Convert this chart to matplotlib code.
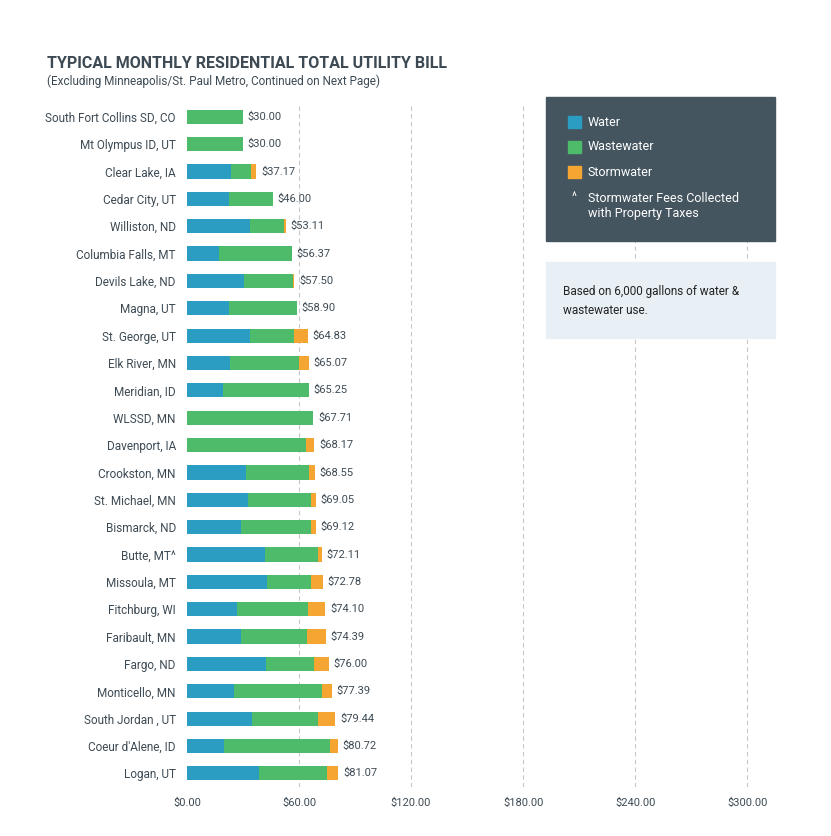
import matplotlib.pyplot as plt
import matplotlib.patches as patches
import numpy as np

plt.rcParams['font.family'] = ['Roboto', 'DejaVu Sans']
plt.rcParams['font.stretch'] = 'condensed'

cities = ["South Fort Collins SD, CO", "Mt Olympus ID, UT", "Clear Lake, IA", "Cedar City, UT",
          "Williston, ND", "Columbia Falls, MT", "Devils Lake, ND", "Magna, UT", "St. George, UT",
          "Elk River, MN", "Meridian, ID", "WLSSD, MN", "Davenport, IA", "Crookston, MN",
          "St. Michael, MN", "Bismarck, ND", "Butte, MT^", "Missoula, MT", "Fitchburg, WI",
          "Faribault, MN", "Fargo, ND", "Monticello, MN", "South Jordan , UT", "Coeur d'Alene, ID",
          "Logan, UT"]
totals = [30.00, 30.00, 37.17, 46.00, 53.11, 56.37, 57.50, 58.90, 64.83, 65.07, 65.25, 67.71,
          68.17, 68.55, 69.05, 69.12, 72.11, 72.78, 74.10, 74.39, 76.00, 77.39, 79.44, 80.72, 81.07]
water = [0, 0, 23.5, 22.5, 33.7, 17.0, 30.5, 22.5, 33.7, 23.0, 19.3, 0, 0, 31.5, 32.6, 28.9,
         41.7, 42.8, 26.7, 28.9, 42.2, 25.1, 34.8, 19.8, 38.5]
stormwater = [0, 0, 3.0, 0, 1.1, 0.4, 0.5, 0, 7.6, 5.0, 0, 0.5, 4.2, 3.3, 2.7, 2.8,
              2.0, 6.5, 9.4, 10.2, 8.1, 5.2, 9.4, 4.2, 6.2]
wastewater = [t - w - s for t, w, s in zip(totals, water, stormwater)]
ticks = [0, 60, 120, 180, 240, 300]

c_water = '#2b9cc2'
c_ww = '#4dbb6a'
c_storm = '#f5a632'
text_c = '#3d4a54'

fig = plt.figure(figsize=(8.31, 8.36), dpi=100)
ax = fig.add_axes([0.225, 0.0586, 0.708, 0.818])
y = np.arange(len(cities))
h = 0.52
ax.barh(y, water, height=h, color=c_water)
ax.barh(y, wastewater, left=water, height=h, color=c_ww)
ax.barh(y, stormwater, left=np.array(water) + np.array(wastewater), height=h, color=c_storm)
for yi, t in zip(y, totals):
    ax.text(t + 2.5, yi, f"${t:.2f}", va='center', ha='left', fontsize=8, color=text_c)

ax.set_ylim(len(cities) - 0.5, -0.5)
ax.set_xlim(0, 315)
ax.set_yticks(y)
ax.set_yticklabels(cities, fontsize=8.5, color=text_c)
ax.set_xticks(ticks)
ax.set_xticklabels([f"${t:.2f}" for t in ticks], fontsize=8, color=text_c)
ax.tick_params(length=0, pad=8)
for t in ticks[1:]:
    ax.axvline(t, color='#c8c8c8', lw=0.8, ls=(0, (4, 3)), zorder=0)
for s in ax.spines.values():
    s.set_visible(False)

fig.text(47 / 831, 1 - 63 / 836, "TYPICAL MONTHLY RESIDENTIAL TOTAL UTILITY BILL",
         fontsize=11.5, fontweight='bold', color=text_c, va='center')
fig.text(47 / 831, 1 - 81 / 836, "(Excluding Minneapolis/St. Paul Metro, Continued on Next Page)",
         fontsize=8.5, color=text_c, va='center')

# legend box
fig.patches.append(patches.Rectangle((546 / 831, 1 - 241 / 836), 229 / 831, 144 / 836,
                                     transform=fig.transFigure, color='#44555f', zorder=0))
for i, (lab, c) in enumerate([("Water", c_water), ("Wastewater", c_ww), ("Stormwater", c_storm)]):
    yy = 1 - (122 + 25 * i) / 836
    fig.patches.append(patches.Rectangle((568 / 831, yy - 6 / 836), 13 / 831, 12 / 836,
                                         transform=fig.transFigure, color=c))
    fig.text(588 / 831, yy, lab, color='white', fontsize=9, va='center')
fig.text(572 / 831, 1 - 198 / 836, "^", color='white', fontsize=8.5, va='center')
fig.text(588 / 831, 1 - 206 / 836, "Stormwater Fees Collected\nwith Property Taxes",
         color='white', fontsize=9, va='center', linespacing=1.1)

# note box
fig.patches.append(patches.Rectangle((546 / 831, 1 - 338 / 836), 229 / 831, 76 / 836,
                                     transform=fig.transFigure, color='#e8f0f6', zorder=0))
fig.text(563 / 831, 1 - 301 / 836, "Based on 6,000 gallons of water &\nwastewater use.",
         color='#222222', fontsize=8.5, va='center', linespacing=1.5)

fig.savefig('out.png', dpi=100)
